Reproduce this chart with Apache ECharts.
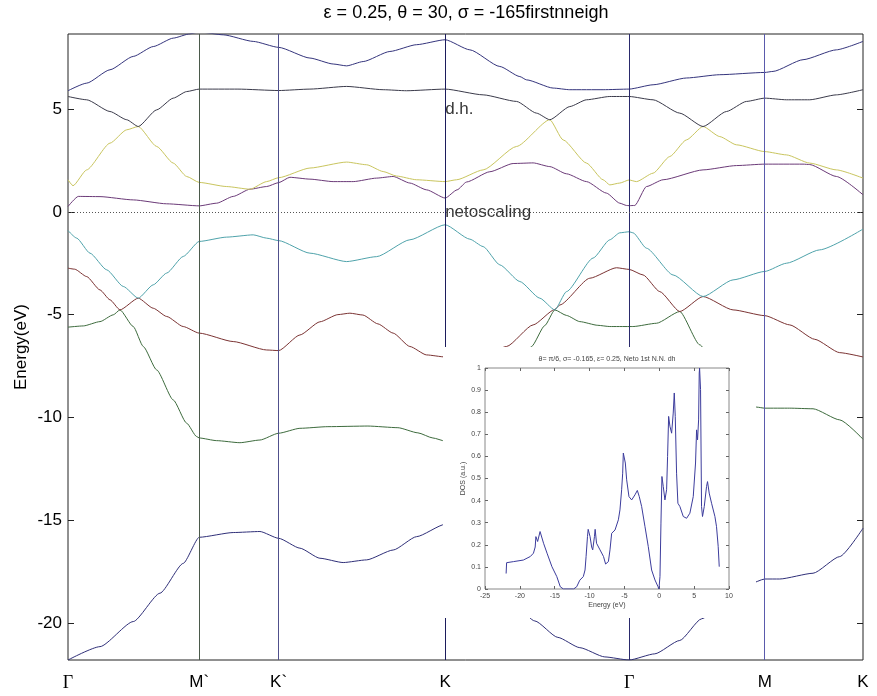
<!DOCTYPE html>
<html>
<head>
<meta charset="utf-8">
<script src="https://cdn.jsdelivr.net/npm/echarts@6/dist/echarts.min.js"></script>
<style>
  html, body { margin: 0; padding: 0; background: #fff; }
  #chart { width: 877px; height: 696px; }
</style>
</head>
<body>
<div id="chart"></div>
<script>
// High-symmetry points along the k-path (path length units)
const symLabels = ['Γ', 'M`', 'K`', 'K', 'Γ', 'M', 'K'];
const symK = [0, 131.3, 210.7, 377.3, 561.3, 697, 795.3];

// Energy ticks (eV)
const energyTicks = [-20, -15, -10, -5, 0, 5];

// Bands, sorted by energy at each k: [k, E(eV)]
const band1 = [
  [0,-21.8],[32,-21.15],[65.3,-19.93],[92,-18.55],[115.3,-17.1],[131.3,-15.83],
  [165.3,-15.6],[192,-15.55],[210.7,-15.88],
  [232,-16.36],[252,-16.85],[275.3,-17.06],[298.7,-16.93],[325.3,-16.45],[348.7,-15.8],[377.3,-15.2],
  [402,-16.4],[432,-18.1],[467,-19.9],[490,-20.7],[512,-21.2],[537,-21.65],[561.3,-21.8],
  [587,-21.5],[612,-20.85],[633.7,-19.8],[662,-18.75],[682,-18.1],[697,-17.86],
  [712,-17.86],[745.3,-17.58],[772,-16.77],[795.3,-15.39]
];
const band2 = [
  [0,-5.61],[15.3,-5.55],[32,-5.34],[45.3,-5.01],[52,-4.77],[65.3,-5.58],[75.3,-6.55],[88.7,-7.69],
  [105.3,-9.15],[118.7,-10.28],[128.7,-10.93],[131.3,-11.0],
  [148.7,-11.13],[172,-11.23],[192,-11.1],[210.7,-10.77],
  [232,-10.53],[260,-10.45],[300,-10.42],[330,-10.5],[350,-10.75],[365,-11.0],[377.3,-11.15],
  [402,-10.3],[432,-8.6],[452,-7.4],[463.7,-6.55],[477,-5.53],[487,-4.77],[498.7,-5.04],[512,-5.34],
  [530,-5.52],[542,-5.58],[561.3,-5.58],
  [565.3,-5.58],[588.7,-5.42],[612,-4.85],[632,-6.47],[652,-7.9],[672,-9.0],[689,-9.5],[697,-9.55],
  [722,-9.55],[745.3,-9.58],[772,-10.12],[795.3,-11.06]
];
const band3 = [
  [0,-2.74],[6.7,-2.79],[18.7,-3.15],[32,-3.8],[42,-4.28],[52,-4.77],[70.3,-4.2],[85.3,-4.69],
  [98.7,-5.09],[115.3,-5.58],[131.3,-5.9],
  [165.3,-6.31],[198.7,-6.72],[210.7,-6.75],
  [232,-5.99],[252,-5.35],[270,-5.0],[282,-4.93],[295,-5.02],[310,-5.45],[325.3,-5.9],[342,-6.55],
  [358.7,-6.96],[377.3,-7.06],
  [402,-7.0],[422,-6.85],[438.7,-6.55],[465.3,-5.5],[487,-4.75],[492,-4.53],[522,-3.23],[548.7,-2.72],[561.3,-2.8],
  [575.3,-3.07],[592,-3.88],[612,-4.85],[635.3,-4.12],[665.3,-4.77],[697,-5.05],
  [722,-5.5],[747,-6.2],[772,-6.85],[795.3,-7.06]
];
const band4 = [
  [0,-0.91],[8.7,-1.28],[22,-2.01],[38.7,-2.82],[55.3,-3.63],[70.3,-4.2],[85.3,-3.55],[98.7,-2.98],
  [115.3,-2.17],[131.3,-1.44],
  [158.7,-1.23],[185.3,-1.12],[198.7,-1.28],[210.7,-1.4],
  [242,-2.01],[278.7,-2.42],[308.7,-2.18],[342,-1.36],[377.3,-0.63],
  [402,-1.33],[415.3,-1.69],[432,-2.58],[452,-3.39],[472,-4.2],[487,-4.77],[498.7,-3.88],[525.3,-2.25],
  [542,-1.36],[552,-1.02],[561.3,-0.97],
  [565.3,-1.02],[578.7,-1.77],[605.3,-3.07],[635.3,-4.12],[665.3,-3.31],[697,-2.9],
  [718.7,-2.5],[752,-1.85],[795.3,-0.84]
];
const band5 = [
  [0,0.26],[10.3,0.75],[32,0.74],[65.3,0.58],[98.7,0.39],[131.3,0.29],
  [148.7,0.42],[165.3,0.75],[182,1.1],[198.7,1.23],[210.7,1.42],
  [222,1.68],[242,1.59],[265.3,1.47],[285.3,1.47],[308.7,1.64],[325.3,1.72],[342,1.4],[358.7,1.07],[377.3,0.67],
  [389.3,1.07],[398.7,1.45],[422,1.95],[445.3,2.35],[465.3,2.38],[482,2.2],[498.7,1.85],[518.7,1.47],
  [538.7,0.91],[552,0.42],[558.7,0.31],[561.3,0.3],
  [567,0.31],[578.7,1.23],[595.3,1.56],[635.3,2.04],[668.7,2.25],[697,2.32],[735.3,2.32],[742,2.3],
  [768.7,1.72],[795.3,0.83]
];
const band6 = [
  [0,1.56],[5,1.27],[18.7,2.04],[42,3.34],[58.7,3.99],[70.3,4.15],[88.7,3.18],[105.3,2.37],[118.7,1.72],[131.3,1.43],
  [158.7,1.23],[182,1.1],[198.7,1.47],[210.7,1.66],
  [242,2.13],[278.7,2.42],[298.7,2.29],[315.3,1.96],[328.7,1.74],[348.7,1.56],[377.3,1.47],
  [388.7,1.56],[415.3,2.04],[448.7,3.18],[482,4.48],[495.3,3.5],[518.7,2.37],[535.3,1.56],[542,1.31],[552,1.4],[561.3,1.55],
  [568.7,1.47],[585.3,1.88],[602,2.69],[618.7,3.5],[635.3,4.15],[652,3.66],[668.7,3.26],[697,2.93],
  [718.7,2.77],[742,2.37],[768.7,2.04],[795.3,1.64]
];
const band7 = [
  [0,5.61],[18.7,5.45],[42,4.88],[58.7,4.48],[70.3,4.15],[88.7,4.96],[105.3,5.53],[118.7,5.85],[131.3,5.97],
  [170,5.97],[210.7,5.9],
  [242,5.97],[278.7,6.1],[315.3,5.94],[338.7,5.89],[377.3,5.97],
  [415.3,5.69],[448.7,5.37],[468.7,4.8],[482,4.48],[502,5.12],[518.7,5.45],[542,5.61],[561.3,5.61],
  [585.3,5.45],[612,4.8],[635.3,4.15],[658.7,4.88],[678.7,5.37],[697,5.53],[718.7,5.45],[742,5.45],
  [768.7,5.69],[795.3,5.94]
];
const band8 = [
  [0,5.89],[18.7,6.26],[42,6.91],[65.3,7.56],[85.3,8.04],[105.3,8.45],[122,8.66],[131.3,8.75],[155.3,8.61],
  [185.3,8.29],[210.7,8.0],
  [242,7.48],[265.3,7.19],[278.7,7.1],[295.3,7.31],[322,7.8],[348.7,8.13],[377.3,8.37],
  [402,7.88],[432,7.07],[452,6.58],[458.7,6.42],[485.3,6.02],[502,5.94],[535.3,5.94],[561.3,5.97],
  [585.3,6.18],[618.7,6.51],[652,6.67],[697,6.78],[705.3,6.83],[735.3,7.4],[768.7,7.88],[795.3,8.29]
];

// Density of states: [E(eV), DOS(a.u.)]
const dosCurve = [
  [-21.97,0.07],[-21.9,0.119],[-20.9,0.124],[-19.5,0.131],[-18.5,0.147],[-18.05,0.162],[-17.8,0.19],
  [-17.7,0.237],[-17.45,0.215],[-17.1,0.26],[-16.6,0.207],[-16.1,0.162],[-15.4,0.101],[-14.7,0.056],
  [-14.2,0.01],[-13.75,0],[-12.3,0],[-11.85,0.01],[-11.4,0.04],[-10.9,0.056],[-10.65,0.086],[-10.5,0.147],
  [-10.3,0.237],[-10.2,0.27],[-9.93,0.237],[-9.7,0.19],[-9.55,0.177],[-9.3,0.237],[-9.2,0.27],[-9.0,0.207],
  [-8.5,0.177],[-8.0,0.147],[-7.7,0.113],[-7.3,0.124],[-7.07,0.177],[-6.83,0.252],[-6.35,0.267],
  [-5.87,0.313],[-5.64,0.358],[-5.4,0.449],[-5.25,0.524],[-5.16,0.615],[-5.0,0.618],[-4.87,0.57],
  [-4.68,0.494],[-4.35,0.418],[-3.96,0.403],[-3.72,0.406],[-3.49,0.426],[-3.15,0.446],[-2.87,0.418],
  [-2.53,0.373],[-2.05,0.282],[-1.58,0.192],[-1.1,0.086],[-0.62,0.041],[-0.19,0.011],[-0.05,0],
  [0.1,0.056],[0.24,0.298],[0.38,0.509],[0.57,0.464],[0.81,0.403],[1.05,0.449],[1.19,0.6],[1.34,0.781],
  [1.53,0.736],[1.77,0.705],[2.0,0.796],[2.15,0.887],[2.29,0.781],[2.48,0.524],[2.67,0.388],[2.96,0.373],
  [3.44,0.328],[3.92,0.32],[4.39,0.343],[4.87,0.418],[5.2,0.57],[5.35,0.72],[5.49,0.675],[5.64,0.765],
  [5.73,0.977],[5.78,1.0],[5.92,0.902],[6.06,0.373],[6.2,0.328],[6.45,0.373],[6.78,0.464],[6.92,0.486],
  [7.16,0.434],[7.5,0.388],[7.98,0.328],[8.21,0.282],[8.45,0.192],[8.6,0.101]
];

// ---- styling ----
const bands = [band1, band2, band3, band4, band5, band6, band7, band8];
const bandColors = ['#2f2f78', '#3d6b3d', '#7b3333', '#4fa3ab', '#6b3a78', '#c9c55e', '#3a3a4a', '#34347c'];
const symLineColors = [null, '#4b5a4b', '#50508c', '#1c1c5c', '#2a2a6c', '#5a5aac', null];
const FONT = 'Liberation Sans, Arial, sans-serif';
const yMin = -21.8, yMax = 8.65;

const chart = echarts.init(document.getElementById('chart'), null, { renderer: 'canvas' });

const bandSeries = bands.map((b, i) => ({
  type: 'line', name: 'band' + (i + 1), data: b,
  xAxisIndex: 0, yAxisIndex: 0,
  symbol: 'none', smooth: 0.2, smoothMonotone: 'x',
  lineStyle: { width: 1, color: bandColors[i] },
  z: 2, animation: false, silent: true
}));

const guideSeries = {
  type: 'line', data: [], xAxisIndex: 0, yAxisIndex: 0, z: 3, silent: true,
  markLine: {
    silent: true, symbol: ['none', 'none'], label: { show: false }, animation: false,
    data: symK.map((k, i) => symLineColors[i] ? { xAxis: k, lineStyle: { color: symLineColors[i], width: 1, type: 'solid' } } : null)
      .filter(Boolean)
      .concat([{ yAxis: 0, lineStyle: { color: '#555', width: 1, type: [1, 2] } }])
  }
};

const noteSeries = {
  type: 'scatter', xAxisIndex: 0, yAxisIndex: 0, symbolSize: 0, z: 4, silent: true, animation: false,
  data: [
    { value: [symK[3], 5], name: 'd.h.' },
    { value: [symK[3], 0], name: 'netoscaling', label: { backgroundColor: '#fff', padding: [1, 0, 1, 0] } }
  ],
  label: {
    show: true, formatter: p => p.name, position: [0, 0], align: 'left', verticalAlign: 'middle',
    fontFamily: FONT, fontSize: 17, color: '#000'
  }
};

const dosSeries = {
  type: 'line', data: dosCurve, xAxisIndex: 1, yAxisIndex: 2,
  symbol: 'none', lineStyle: { width: 1, color: '#3c3c9c' }, z: 30,
  animation: false, silent: true
};

const smallAxisLabel = { fontFamily: FONT, fontSize: 7, color: '#444' };
const insetTick = { inside: true, length: 3, lineStyle: { color: '#666' } };

const option = {
  backgroundColor: '#fff',
  animation: false,
  grid: [
    { left: 68, right: 14, top: 34, bottom: 36, show: true, borderColor: '#222', borderWidth: 1, backgroundColor: 'transparent', z: 0 },
    { left: 485, top: 368, width: 244, height: 221, show: true, borderColor: '#888', borderWidth: 1, backgroundColor: '#fff', z: 25 }
  ],
  xAxis: [
    {
      type: 'value', gridIndex: 0, min: 0, max: symK[symK.length - 1],
      axisLine: { show: false, onZero: false }, splitLine: { show: false }, axisTick: { show: false },
      axisLabel: {
        customValues: symK, margin: 14,
        formatter: v => {
          const i = symK.findIndex(k => Math.abs(k - v) < 1e-6);
          const s = i >= 0 ? symLabels[i] : '';
          return s === 'Γ' ? '{g|Γ}' : s;
        },
        fontFamily: FONT, fontSize: 17, color: '#000',
        rich: { g: { fontFamily: 'Liberation Serif, DejaVu Serif, serif', fontSize: 18, color: '#000' } }
      }
    },
    {
      type: 'value', gridIndex: 1, min: -25, max: 10, interval: 5, z: 30,
      axisLine: { show: false, onZero: false }, splitLine: { show: false },
      axisTick: insetTick,
      axisLabel: Object.assign({ margin: 4 }, smallAxisLabel),
      name: 'Energy (eV)', nameLocation: 'middle', nameGap: 13,
      nameTextStyle: { fontFamily: FONT, fontSize: 7, color: '#444' }
    },
    {
      type: 'value', gridIndex: 1, min: -25, max: 10, interval: 5, position: 'top', z: 30,
      axisLine: { show: false, onZero: false }, splitLine: { show: false },
      axisTick: insetTick,
      axisLabel: { show: false }
    }
  ],
  yAxis: [
    {
      type: 'value', gridIndex: 0, min: yMin, max: yMax,
      axisLine: { show: false, onZero: false }, splitLine: { show: false },
      axisTick: { show: true, inside: true, length: 6, customValues: energyTicks, lineStyle: { color: '#222' } },
      axisLabel: { customValues: energyTicks, margin: 6, fontFamily: FONT, fontSize: 17, color: '#000' },
      name: 'Energy(eV)', nameLocation: 'middle', nameGap: 38, nameRotate: 90, nameMoveOverlap: false,
      nameTextStyle: { fontFamily: FONT, fontSize: 17, color: '#000' }
    },
    {
      type: 'value', gridIndex: 0, min: yMin, max: yMax, position: 'right',
      axisLine: { show: false, onZero: false }, splitLine: { show: false },
      axisTick: { show: true, inside: true, length: 6, customValues: energyTicks, lineStyle: { color: '#222' } },
      axisLabel: { show: false }
    },
    {
      type: 'value', gridIndex: 1, min: 0, max: 1, interval: 0.1, z: 30,
      axisLine: { show: false, onZero: false }, splitLine: { show: false },
      axisTick: insetTick,
      axisLabel: Object.assign({ margin: 4, formatter: v => +v.toFixed(1) + '' }, smallAxisLabel),
      name: 'DOS (a.u.)', nameLocation: 'middle', nameGap: 18, nameRotate: 90, nameMoveOverlap: false,
      nameTextStyle: { fontFamily: FONT, fontSize: 7, color: '#444' }
    },
    {
      type: 'value', gridIndex: 1, min: 0, max: 1, interval: 0.1, position: 'right', z: 30,
      axisLine: { show: false, onZero: false }, splitLine: { show: false },
      axisTick: insetTick,
      axisLabel: { show: false }
    }
  ],
  graphic: [
    {
      type: 'text', x: 466, y: 13, z: 10, silent: true,
      style: { text: 'ε = 0.25, θ = 30, σ = -165firstnneigh', font: '18px ' + FONT, fill: '#000', align: 'center', verticalAlign: 'middle' }
    },
    {
      type: 'rect', shape: { x: 443, y: 347, width: 313, height: 271 }, z: 20,
      style: { fill: '#fff' }, silent: true
    },
    {
      type: 'text', z: 30, silent: true,
      x: 607, y: 359,
      style: { text: 'θ= π/6, σ= -0.165, ε= 0.25, Neto 1st N.N. dh', font: '7px ' + FONT, fill: '#444', align: 'center', verticalAlign: 'middle' }
    }
  ],
  series: bandSeries.concat([guideSeries, noteSeries, dosSeries])
};

chart.setOption(option);
</script>
</body>
</html>
